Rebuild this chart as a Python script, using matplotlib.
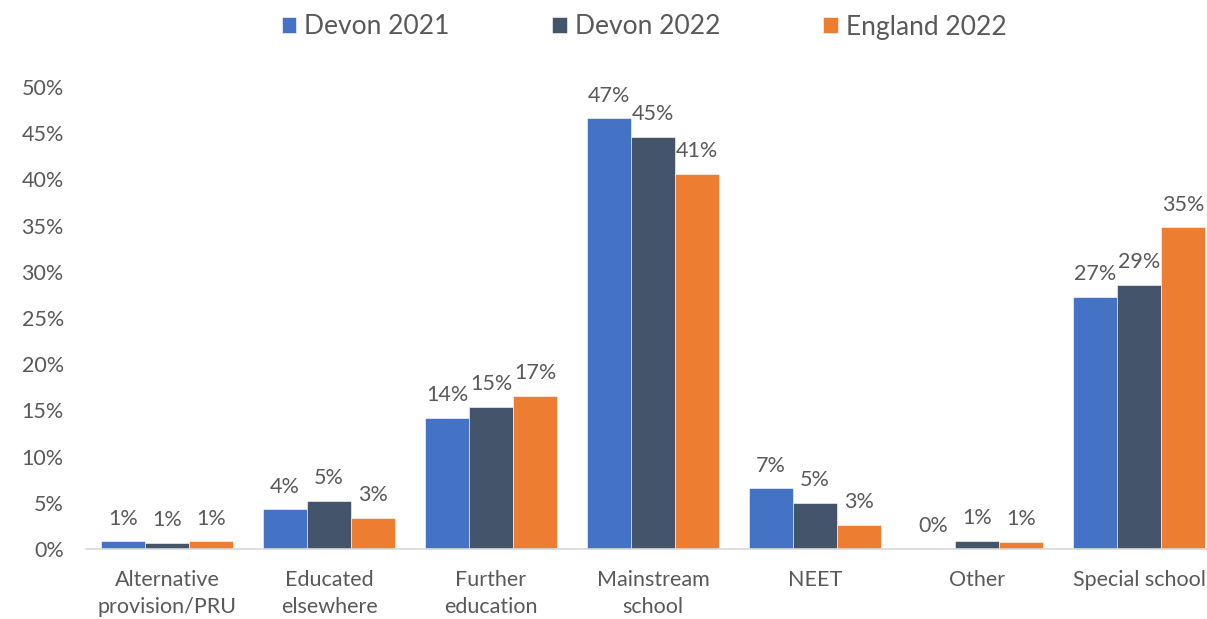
import numpy as np
import matplotlib
matplotlib.use("Agg")
import matplotlib.pyplot as plt
from matplotlib.ticker import PercentFormatter

categories = ["Alternative\nprovision/PRU", "Educated\nelsewhere", "Further\neducation",
              "Mainstream\nschool", "NEET", "Other", "Special school"]
series_names = ["Devon 2021", "Devon 2022", "England 2022"]
devon_2021 = [0.85, 4.3, 14.2, 46.6, 6.6, 0.0, 27.3]
devon_2022 = [0.65, 5.2, 15.4, 44.6, 5.0, 0.9, 28.6]
england_2022 = [0.85, 3.4, 16.6, 40.6, 2.6, 0.8, 34.8]

colors = ["#4472C4", "#44546A", "#ED7D31"]
text_col = "#595959"

plt.rcParams['font.family'] = ['Lato', 'DejaVu Sans']

fig = plt.figure(figsize=(12.07, 6.19), dpi=100)
ax = fig.add_axes([0.0713, 0.1131, 0.9395, 0.7464])

x = np.arange(len(categories))
w = 0.272
data = [devon_2021, devon_2022, england_2022]
for i, (name, vals) in enumerate(zip(series_names, data)):
    pos = x + (i - 1) * w
    ax.bar(pos, vals, width=w, color=colors[i], label=name,
           edgecolor="white", linewidth=0.4)
    for xp, v in zip(pos, vals):
        ax.annotate(f"{v:.0f}%", (xp, v), xytext=(0, 9), textcoords="offset points",
                    ha="center", va="bottom", fontsize=15.5, color=text_col)

ax.set_xlim(-0.5, len(categories) - 0.5)
ax.set_ylim(0, 50)
ax.set_yticks(np.arange(0, 51, 5))
ax.yaxis.set_major_formatter(PercentFormatter(decimals=0))
ax.set_xticks(x)
ax.set_xticklabels(categories, fontsize=15.5, color=text_col, linespacing=1.45)
ax.tick_params(axis="y", labelsize=15.5, labelcolor=text_col, length=0, pad=16)
ax.tick_params(axis="x", length=0, pad=15)
for s in ["top", "right", "left"]:
    ax.spines[s].set_visible(False)
ax.spines["bottom"].set_color("#D9D9D9")
ax.spines["bottom"].set_linewidth(1.2)

fig.legend(loc="center", bbox_to_anchor=(644 / 1207, 1 - 27 / 619),
           ncol=3, frameon=False, fontsize=19, labelcolor=text_col,
           handlelength=0.55, handleheight=0.55, handletextpad=0.3, columnspacing=3.9)

plt.savefig("out.png", dpi=100)
